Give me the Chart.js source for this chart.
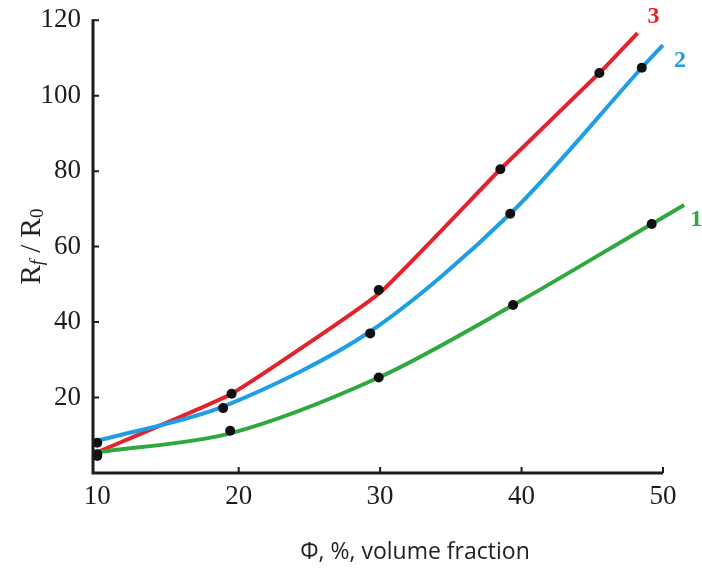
<!DOCTYPE html>
<html>
<head>
<meta charset="utf-8">
<script src="https://cdn.jsdelivr.net/npm/chart.js@4.4.1/dist/chart.umd.min.js"></script>
<style>
  html, body { margin: 0; padding: 0; background: #fff; }
  #wrap { width: 702px; height: 573px; position: relative; }
</style>
</head>
<body>
<div id="wrap"><canvas id="rf-chart"></canvas></div>
<script>
// measured points (black dots)
const phi1 = [10, 19.4, 29.9, 39.4, 49.2];
const rf1  = [5, 11.2, 25.3, 44.5, 66];
const phi2 = [10, 18.9, 29.3, 39.2, 48.5];
const rf2  = [8, 17.2, 37, 68.7, 107.4];
const phi3 = [10, 19.5, 29.9, 38.5, 45.5];
const rf3  = [4.5, 21, 48.5, 80.5, 106];

// fitted curves, run slightly past the last point
const fitPhi1 = [10, 19.4, 29.9, 39.4, 49.2, 51.5];
const fitRf1  = [5.5, 10.5, 25.3, 44.5, 66, 71];
const fitPhi2 = [10, 18.9, 29.3, 39.2, 48.5, 50];
const fitRf2  = [8.5, 17.6, 37.5, 68.7, 107.4, 113.4];
const fitPhi3 = [10, 19.5, 29.9, 38.5, 45.5, 48.2];
const fitRf3  = [5.5, 21, 47.5, 80.5, 106, 116.6];

const curveNames = ['1', '2', '3'];
const xTicks = [10, 20, 30, 40, 50];
const yTicks = [20, 40, 60, 80, 100, 120];

const RED = '#e5222c', BLUE = '#1f9ee3', GREEN = '#2fa83f';
const SERIF = '"Liberation Serif", "DejaVu Serif", serif';

const pts = (xs, ys) => xs.map((x, i) => ({ x, y: ys[i] }));

function curve(label, xs, ys, color, tension) {
  return {
    type: 'line', label, data: pts(xs, ys),
    borderColor: color, borderWidth: 4, pointRadius: 0,
    tension, clip: false, order: 2
  };
}
function dots(xs, ys) {
  return {
    type: 'scatter', data: pts(xs, ys),
    pointRadius: 5, pointBackgroundColor: '#111', pointBorderWidth: 0,
    clip: false, order: 1
  };
}

// axis lines, inward ticks, curve numbers and the two axis titles
const decor = {
  id: 'decor',
  afterDraw(chart) {
    const { ctx, chartArea: a, scales: { x, y } } = chart;
    ctx.save();
    ctx.strokeStyle = '#1c1c1c';
    ctx.lineWidth = 3;
    ctx.beginPath();
    ctx.moveTo(a.left, a.top - 1);
    ctx.lineTo(a.left, a.bottom);
    ctx.lineTo(a.right, a.bottom);
    ctx.stroke();
    ctx.lineWidth = 2;
    ctx.beginPath();
    yTicks.forEach(v => { const py = y.getPixelForValue(v); ctx.moveTo(a.left, py); ctx.lineTo(a.left + 6, py); });
    xTicks.slice(1).forEach(v => { const px = x.getPixelForValue(v); ctx.moveTo(px, a.bottom); ctx.lineTo(px, a.bottom - 6); });
    ctx.stroke();

    // curve numbers next to the line ends
    const ends = [[fitPhi1, fitRf1, GREEN, 12, 15], [fitPhi2, fitRf2, BLUE, 17, 16], [fitPhi3, fitRf3, RED, 16, -16]];
    ctx.font = 'bold 24px ' + SERIF;
    ctx.textAlign = 'center';
    ctx.textBaseline = 'middle';
    ends.forEach(([xs, ys, c, dx, dy], i) => {
      ctx.fillStyle = c;
      ctx.fillText(curveNames[i], x.getPixelForValue(xs[xs.length - 1]) + dx, y.getPixelForValue(ys[ys.length - 1]) + dy);
    });

    // y title: R_f / R_0
    ctx.fillStyle = '#222';
    ctx.translate(32, (a.top + a.bottom) / 2);
    ctx.rotate(-Math.PI / 2);
    const parts = [['R', 'normal 29px ' + SERIF, 0], ['f', 'italic 19px ' + SERIF, 6], [' / R', 'normal 29px ' + SERIF, 0], ['0', 'normal 19px ' + SERIF, 6]];
    let w = 0;
    parts.forEach(([t, f]) => { ctx.font = f; w += ctx.measureText(t).width; });
    let cx = -w / 2;
    ctx.textAlign = 'left';
    ctx.textBaseline = 'middle';
    parts.forEach(([t, f, off]) => { ctx.font = f; ctx.fillText(t, cx, off); cx += ctx.measureText(t).width; });
    ctx.restore();

    ctx.save();
    ctx.fillStyle = '#222';
    ctx.font = '23px "Open Sans", "Noto Sans", sans-serif';
    ctx.textAlign = 'center';
    ctx.textBaseline = 'middle';
    ctx.fillText('Φ, %, volume fraction', (a.left + a.right) / 2 + 37, a.bottom + 79);
    ctx.restore();
  }
};

new Chart(document.getElementById('rf-chart'), {
  data: {
    datasets: [
      curve('1', fitPhi1, fitRf1, GREEN, 0.3),
      curve('2', fitPhi2, fitRf2, BLUE, 0.3),
      curve('3', fitPhi3, fitRf3, RED, 0.12),
      dots(phi1, rf1), dots(phi2, rf2), dots(phi3, rf3)
    ]
  },
  options: {
    responsive: true,
    maintainAspectRatio: false,
    animation: false,
    layout: { padding: { top: 17, right: 39, bottom: 0, left: 0 } },
    plugins: { legend: { display: false }, tooltip: { enabled: false } },
    scales: {
      x: {
        type: 'linear', min: 9.7, max: 50,
        afterBuildTicks: s => { s.ticks = xTicks.map(v => ({ value: v })); },
        afterFit: s => { s.height = 100; },
        grid: { display: false }, border: { display: false },
        ticks: { color: '#1c1c1c', font: { family: SERIF, size: 27 }, padding: 0, maxRotation: 0 }
      },
      y: {
        type: 'linear', min: 0, max: 120,
        afterBuildTicks: s => { s.ticks = yTicks.map(v => ({ value: v })); },
        afterFit: s => { s.width = 93; },
        grid: { display: false }, border: { display: false },
        ticks: { color: '#1c1c1c', font: { family: SERIF, size: 27 }, padding: 4 }
      }
    }
  },
  plugins: [decor]
});
</script>
</body>
</html>
